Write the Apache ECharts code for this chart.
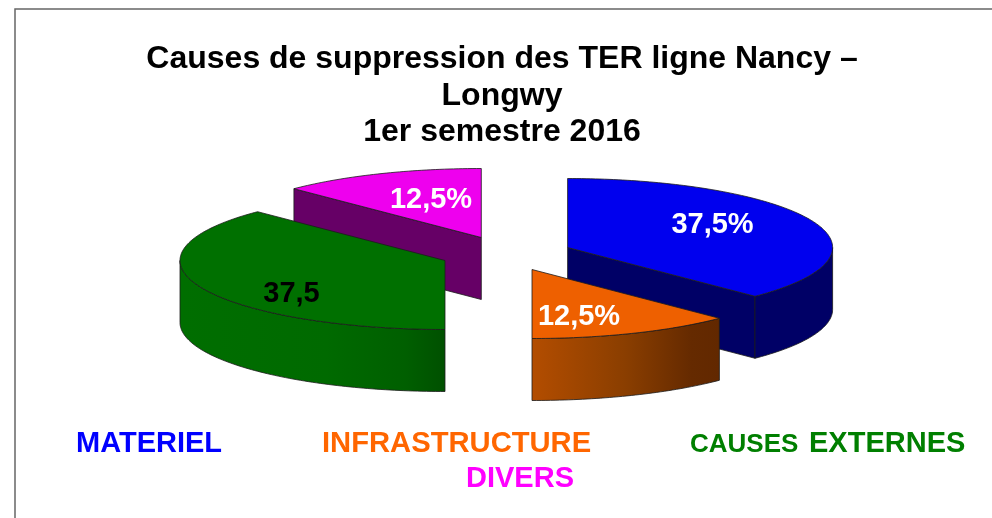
<!DOCTYPE html>
<html><head><meta charset="utf-8">
<style>html,body{margin:0;padding:0;background:#fff}#c{width:992px;height:518px}</style>
<script src="https://cdn.jsdelivr.net/npm/echarts@6/dist/echarts.min.js"></script>
</head><body><div id="c"></div>
<script>
// --- data ---
const categories = ['MATERIEL', 'INFRASTRUCTURE', 'CAUSES EXTERNES', 'DIVERS'];
const values = [37.5, 12.5, 37.5, 12.5];
const valueLabels = ['37,5%', '12,5%', '37,5', '12,5%'];
const titleText = 'Causes de suppression des TER ligne Nancy –\nLongwy\n1er semestre 2016';

// --- presentation ---
const FONT = '"Liberation Sans", Arial, sans-serif';
const RX = 265, RY = 69, DEPTH = 62;
const apexes = [[567.6, 247.5], [532, 269.5], [445, 260.5], [481.3, 237.5]];
const labelAt = [[712.5, 224.5], [579, 316.5], [291.5, 293.5], [431, 199.5]];
const labelColors = ['#fff', '#fff', '#000', '#fff'];
const topColors = ['#0000ee', '#ee6000', '#007000', '#ee00ee'];
const wallStops = [
  [[0, '#000066'], [1, '#000066']],
  [[0, '#b34d00'], [0.5, '#8a3e00'], [0.85, '#652a00'], [1, '#622800']],
  [[0, '#006e00'], [0.55, '#006a00'], [0.85, '#005f00'], [1, '#005000']],
  [[0, '#660066'], [1, '#660066']]
];
const cutColors = ['#000066', '#000066', '#006600', '#660066'];
const ranks = [10, 20, 10, 0];
const EDGE = '#1c1c1c';

const total = values.reduce((a, b) => a + b, 0);
const starts = values.map((_, i) => values.slice(0, i).reduce((a, b) => a + b, 0) / total * 360);

function pt(c, deg, dy) {
  const r = deg * Math.PI / 180;
  return [c[0] + RX * Math.sin(r), c[1] - RY * Math.cos(r) + (dy || 0)];
}
function arc(c, a, b, dy) {
  const out = [], n = Math.max(2, Math.ceil(Math.abs(b - a)));
  for (let k = 0; k <= n; k++) out.push(pt(c, a + (b - a) * k / n, dy));
  return out;
}
function renderSlice(params, api) {
  const i = params.dataIndex;
  const c = apexes[i];
  const a = starts[i];
  const b = a + api.value(0) / total * 360;
  const z = ranks[i];
  const kids = [];
  const edgeStyle = { stroke: EDGE, lineWidth: 0.8 };
  const addCut = deg => {
    const p = pt(c, deg);
    kids.push({ type: 'polygon', z2: z, shape: { points: [c, p, [p[0], p[1] + DEPTH], [c[0], c[1] + DEPTH]] },
      style: Object.assign({ fill: cutColors[i] }, edgeStyle) });
  };
  // cut faces are visible only when they turn towards the viewer
  if (a > 180 && a < 360) addCut(a);
  if (b > 0 && b < 180) addCut(b);
  // outer wall: the part of the rim on the front half of the ellipse
  const wa = Math.max(a, 90), wb = Math.min(b, 270);
  if (wb > wa) {
    const pts = arc(c, wa, wb).concat(arc(c, wb, wa, DEPTH));
    const stops = wallStops[i].map(s => ({ offset: s[0], color: s[1] }));
    // shade from the left of the wall to the right
    kids.push({ type: 'polygon', z2: z + 1, shape: { points: pts },
      style: Object.assign({ fill: new echarts.graphic.LinearGradient(0, 0, 1, 0, stops) }, edgeStyle) });
  }
  // top face
  kids.push({ type: 'polygon', z2: z + 2, shape: { points: [c].concat(arc(c, a, b)) },
    style: Object.assign({ fill: topColors[i] }, edgeStyle) });
  kids.push({ type: 'text', z2: 50, x: labelAt[i][0], y: labelAt[i][1],
    style: { text: valueLabels[i], fill: labelColors[i], font: 'bold 29px ' + FONT, align: 'center', verticalAlign: 'middle' } });
  return { type: 'group', children: kids };
}

const chart = echarts.init(document.getElementById('c'), null, { renderer: 'canvas' });
chart.setOption({
  animation: false,
  backgroundColor: '#fff',
  title: {
    text: titleText, left: 497, top: 36, textAlign: 'center',
    textStyle: { fontFamily: FONT, fontWeight: 'bold', fontSize: 32, lineHeight: 36.5, color: '#000' }
  },
  graphic: [
    { type: 'rect', z: -1, shape: { x: 15, y: 9, width: 1100, height: 700 }, style: { fill: 'none', stroke: '#666', lineWidth: 1.5 } },
    { type: 'text', x: 76, y: 444, style: { text: categories[0], fill: '#0000ff', font: 'bold 29px ' + FONT, verticalAlign: 'middle' } },
    { type: 'text', x: 322, y: 444, style: { text: categories[1], fill: '#ff6600', font: 'bold 29.2px ' + FONT, verticalAlign: 'middle' } },
    { type: 'text', x: 466, y: 479, style: { text: categories[3], fill: '#ff00ff', font: 'bold 29px ' + FONT, verticalAlign: 'middle' } },
    { type: 'text', x: 690, y: 445, style: { text: categories[2].split(' ')[0], fill: '#007f00', font: 'bold 26px ' + FONT, verticalAlign: 'middle' } },
    { type: 'text', x: 809, y: 444, style: { text: categories[2].split(' ')[1], fill: '#007f00', font: 'bold 29px ' + FONT, verticalAlign: 'middle' } }
  ],
  series: [{
    type: 'custom',
    coordinateSystem: 'none',
    renderItem: renderSlice,
    data: values.map((v, i) => ({ name: categories[i], value: [v] }))
  }]
});
</script></body></html>
